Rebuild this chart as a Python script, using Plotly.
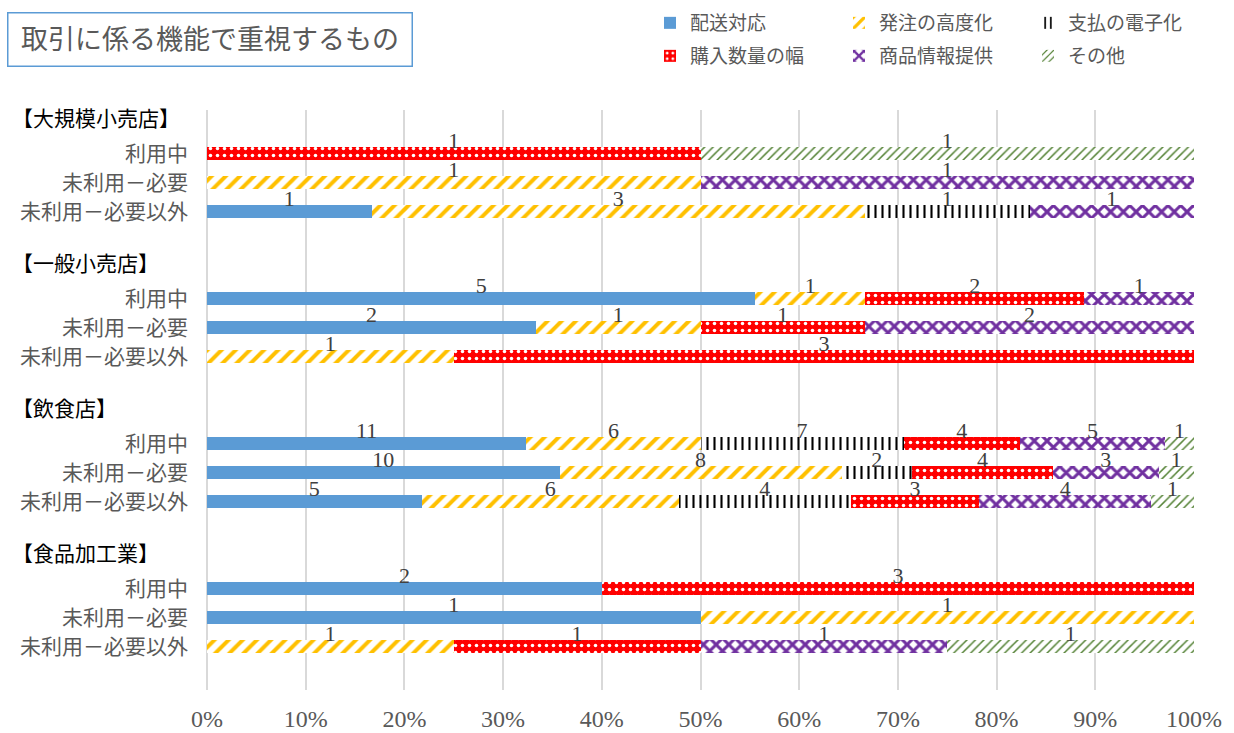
import plotly.graph_objects as go

groups = ["大規模小売店", "一般小売店", "飲食店", "食品加工業"]
statuses = ["利用中", "未利用－必要", "未利用－必要以外"]
series_names = ["配送対応", "発注の高度化", "支払の電子化", "購入数量の幅", "商品情報提供", "その他"]

# counts, rows ordered group x status (top to bottom)
haiso = [0, 0, 1, 5, 2, 0, 11, 10, 5, 2, 1, 0]
hatchu = [0, 1, 3, 1, 1, 1, 6, 8, 6, 0, 1, 1]
shiharai = [0, 0, 1, 0, 0, 0, 7, 2, 4, 0, 0, 0]
konyu = [1, 0, 0, 2, 1, 3, 4, 4, 3, 3, 0, 1]
shohin = [0, 1, 1, 1, 2, 0, 5, 3, 4, 0, 0, 1]
sonota = [1, 0, 0, 0, 0, 0, 1, 1, 1, 0, 0, 1]
series_values = [haiso, hatchu, shiharai, konyu, shohin, sonota]

x_ticks = list(range(0, 101, 10))

W, H = 1234, 733
ML, MR, MT, MB = 207, 40, 110, 43
PW, PH = W - ML - MR, H - MT - MB


def pat(shape, fg, bg, size, solidity):
    return dict(marker_color=bg, marker_pattern=dict(
        shape=shape, fgcolor=fg, bgcolor=bg, size=size, solidity=solidity,
        fillmode="overlay", fgopacity=1))


patterns = [
    dict(marker_color="#5B9BD5"),
    pat("/", "#FFC000", "white", 10, 0.4),
    pat("|", "#000000", "white", 7, 0.3),
    pat(".", "white", "#FF0000", 7, 0.2),
    pat("x", "#7030A0", "white", 9, 0.55),
    pat("/", "#548235", "white", 6, 0.25),
]
legend_ids = ["legend", "legend", "legend", "legend2", "legend2", "legend2"]

# build category rows: header, 3 statuses, blank
rows = []
ticktext = []
data_rows = []
for g in groups:
    rows.append("H" + g)
    ticktext.append("")
    for s in statuses:
        rid = g + "|" + s
        rows.append(rid)
        ticktext.append(s)
        data_rows.append(rid)
    rows.append("B" + g)
    ticktext.append("")

fig = go.Figure()
for name, vals, p, lg in zip(series_names, series_values, patterns, legend_ids):
    xv = []
    lookup = dict(zip(data_rows, vals))
    for r in rows:
        v = lookup.get(r)
        xv.append(v if v else None)
    fig.add_trace(go.Bar(
        y=rows, x=xv, name=name, orientation="h", legend=lg,
        marker_line_width=0, **p,
    ))

# data labels
lx, ly, lt = [], [], []
for i, r in enumerate(data_rows):
    total = sum(v[i] for v in series_values)
    cum = 0
    for v in series_values:
        if v[i]:
            lx.append((cum + v[i] / 2) / total * 100)
            ly.append(r)
            lt.append(str(v[i]))
            cum += v[i]
fig.add_trace(go.Scatter(
    x=lx, y=ly, text=lt, mode="text", textposition="top center",
    textfont=dict(family="Liberation Serif, DejaVu Serif, serif", size=22, color="#404040"),
    showlegend=False, hoverinfo="skip",
))

serif = "Liberation Serif, Noto Sans CJK JP, serif"

for g in groups:
    fig.add_annotation(
        x=(10 - ML) / PW, xref="paper", y="H" + g, yref="y",
        text="【" + g + "】", showarrow=False, xanchor="left", yshift=6,
        font=dict(family=serif, size=21, color="#000000"),
    )

fig.add_annotation(
    x=(7 - ML) / PW, xref="paper", y=(H - MB - 12) / PH, yref="paper",
    text="取引に係る機能で重視するもの", showarrow=False,
    xanchor="left", yanchor="top",
    width=387, height=36, borderpad=8, borderwidth=1.5, bordercolor="#5B9BD5",
    font=dict(family=serif, size=27, color="#595959"),
)

legend_common = dict(
    orientation="h", xref="container", yref="container",
    xanchor="left", yanchor="top", entrywidth=144, entrywidthmode="pixels",
    font=dict(family=serif, size=19, color="#595959"), traceorder="normal",
    bgcolor="rgba(0,0,0,0)",
)

fig.update_layout(
    width=W, height=H,
    margin=dict(l=ML, r=MR, t=MT, b=MB),
    barmode="stack", barnorm="percent", bargap=0.55,
    plot_bgcolor="white", paper_bgcolor="white",
    font=dict(family=serif, color="#595959"),
    legend=dict(x=650 / W, y=1 - 4 / H, **legend_common),
    legend2=dict(x=650 / W, y=1 - 37 / H, **legend_common),
    xaxis=dict(
        range=[0, 100], tickvals=x_ticks, ticktext=[f"{t}%" for t in x_ticks],
        showgrid=True, gridcolor="#D9D9D9", gridwidth=1.5,
        zeroline=True, zerolinecolor="#D9D9D9", zerolinewidth=1.5,
        showline=False, ticklabelstandoff=12, automargin=False,
        tickfont=dict(family=serif, size=24, color="#595959"),
    ),
    yaxis=dict(
        categoryorder="array", categoryarray=rows, tickvals=rows, ticktext=ticktext,
        range=[len(rows) - 0.5, -0.5], showgrid=False, zeroline=False, showline=False,
        ticklabelstandoff=18, automargin=False,
        tickfont=dict(family=serif, size=21, color="#595959"),
    ),
)

fig.write_html("out.html", config={"displayModeBar": False},
               post_script="document.body.style.margin='0';")
